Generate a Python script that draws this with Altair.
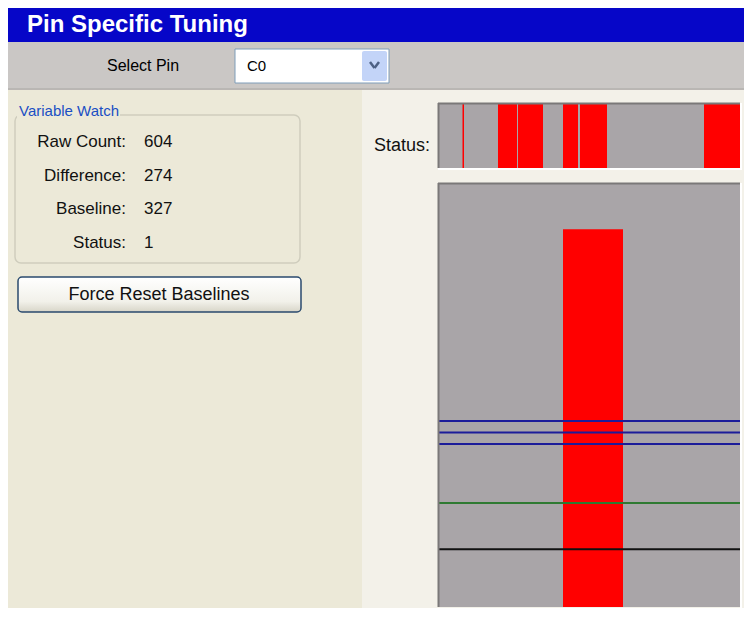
import altair as alt
import pandas as pd

# ---------------- data ----------------
watch_labels = ["Raw Count:", "Difference:", "Baseline:", "Status:"]
watch_values = ["604", "274", "327", "1"]

# status strip: time samples (0..302) where status == 1
status_start = [24.5, 60, 80, 125, 142, 266]
status_end = [26, 79, 105, 140, 169, 302]

# main gauge: current raw count bar
bar_start = [125]
bar_end = [185]
raw_count = [604]

# threshold lines
threshold_levels = [438, 428, 418, 367, 327]
threshold_kind = ["trip", "trip", "trip", "release", "baseline"]

TIME_DOMAIN = [0, 302]
COUNT_DOMAIN = [277, 644]

BEIGE = "#ece9d8"
FONT = "Liberation Sans"

one = pd.DataFrame({"a": [0]})


def rect(x, x2, y, y2, **mark):
    return alt.Chart(one).mark_rect(**mark).encode(
        x=alt.value(x), x2=alt.value(x2), y=alt.value(y), y2=alt.value(y2)
    )


def rule(x, x2, y, y2, **mark):
    return alt.Chart(one).mark_rule(**mark).encode(
        x=alt.value(x), x2=alt.value(x2), y=alt.value(y), y2=alt.value(y2)
    )


def label(txt, x, y, **mark):
    return alt.Chart(one).mark_text(text=txt, font=FONT, **mark).encode(
        x=alt.value(x), y=alt.value(y)
    )


xscale = alt.Scale(domain=TIME_DOMAIN, range=[430, 732], nice=False, zero=False)
yscale = alt.Scale(domain=COUNT_DOMAIN, range=[599, 175], nice=False, zero=False)

# ---------------- chrome ----------------
layers = []
layers.append(rect(354, 736, 82, 600, fill="#f3f1e9"))          # right panel
layers.append(rect(0, 736, 0, 34, fill="#0606c8"))               # title bar
layers.append(label("Pin Specific Tuning", 19, 17, fontSize=24, fontWeight="bold",
                    color="white", align="left", baseline="middle"))
layers.append(rect(0, 736, 34, 82, fill="#cac7c5"))              # select bar
layers.append(rule(0, 736, 81, 81, color="#a9a6a2", strokeWidth=1))
layers.append(label("Select Pin", 99, 58, fontSize=16, color="black",
                    align="left", baseline="middle"))
layers.append(rect(227, 381, 41, 75, fill="white", stroke="#7f9db9", strokeWidth=1))
layers.append(rect(354, 379, 43, 73, fill="#c3d4f8", cornerRadius=2))
layers.append(rule(362, 366.5, 54, 60, color="#4d6185", strokeWidth=2.5))
layers.append(rule(366.5, 371, 60, 54, color="#4d6185", strokeWidth=2.5))
layers.append(label("C0", 239, 58, fontSize=15, color="black",
                    align="left", baseline="middle"))

# variable watch group box
layers.append(rect(7, 292, 107, 255, fill=BEIGE, stroke="#cfcdbd",
                   strokeWidth=1.5, cornerRadius=6))
layers.append(rect(9, 112, 98, 110, fill=BEIGE))
layers.append(label("Variable Watch", 11, 103, fontSize=15, color="#1a4fc4",
                    align="left", baseline="middle"))

rows = pd.DataFrame({"row": list(range(4)), "lab": watch_labels, "val": watch_values})
row_scale = alt.Scale(type="point", domain=[0, 1, 2, 3], range=[134, 235], padding=0)
layers.append(
    alt.Chart(rows).mark_text(font=FONT, fontSize=17, align="right", baseline="middle",
                              color="#111").encode(
        x=alt.value(118),
        y=alt.Y("row:O", scale=row_scale, axis=None),
        text="lab:N",
    )
)
layers.append(
    alt.Chart(rows).mark_text(font=FONT, fontSize=17, align="left", baseline="middle",
                              color="#111").encode(
        x=alt.value(136),
        y=alt.Y("row:O", scale=row_scale, axis=None),
        text="val:N",
    )
)

# button
grad = alt.LinearGradient(
    gradient="linear", x1=0, y1=0, x2=0, y2=1,
    stops=[alt.GradientStop(offset=0, color="#ffffff"),
           alt.GradientStop(offset=0.7, color="#f2f1ea"),
           alt.GradientStop(offset=1, color="#d8d5c8")],
)
layers.append(rect(10, 293, 269, 304, fill=grad, stroke="#2a4a6e",
                   strokeWidth=1.5, cornerRadius=4))
layers.append(label("Force Reset Baselines", 151, 287, fontSize=18, color="#111",
                    align="center", baseline="middle"))

# status strip
layers.append(label("Status:", 422, 138, fontSize=18, color="#111",
                    align="right", baseline="middle"))
layers.append(rect(430, 732, 95, 160, fill="#a9a5a8"))
status_df = pd.DataFrame({"start": status_start, "end": status_end})
layers.append(
    alt.Chart(status_df).mark_rect(color="#ff0000").encode(
        x=alt.X("start:Q", scale=xscale, axis=None),
        x2="end:Q",
        y=alt.value(95), y2=alt.value(160),
    )
)
layers.append(rule(430, 732, 95.5, 95.5, color="#7a7878", strokeWidth=2))
layers.append(rule(430.5, 430.5, 95, 160, color="#7a7878", strokeWidth=2))
layers.append(rule(430, 734, 161, 161, color="#ffffff", strokeWidth=2))

# main gauge
layers.append(rect(430, 732, 175, 599, fill="#a9a5a8"))
bar_df = pd.DataFrame({"start": bar_start, "end": bar_end, "raw": raw_count})
layers.append(
    alt.Chart(bar_df).mark_rect(color="#ff0000").encode(
        x=alt.X("start:Q", scale=xscale, axis=None),
        x2="end:Q",
        y=alt.Y("raw:Q", scale=yscale, axis=None),
        y2=alt.datum(COUNT_DOMAIN[0]),
    )
)
thr_df = pd.DataFrame({"level": threshold_levels, "kind": threshold_kind})
layers.append(
    alt.Chart(thr_df).mark_rule(strokeWidth=2).encode(
        x=alt.datum(TIME_DOMAIN[0], scale=xscale),
        x2=alt.datum(TIME_DOMAIN[1]),
        y=alt.Y("level:Q", scale=yscale, axis=None),
        color=alt.Color("kind:N", legend=None,
                        scale=alt.Scale(domain=["trip", "release", "baseline"],
                                        range=["#1c1c9a", "#2f7a32", "#111111"])),
    )
)
layers.append(rule(430, 732, 175.5, 175.5, color="#7a7878", strokeWidth=2))
layers.append(rule(430.5, 430.5, 175, 599, color="#7a7878", strokeWidth=2))
layers.append(rule(733, 733, 175, 600, color="#ffffff", strokeWidth=2))
layers.append(rule(733, 733, 95, 162, color="#ffffff", strokeWidth=2))

chart = (
    alt.layer(*layers)
    .resolve_scale(y="independent")
    .properties(width=736, height=600, padding=0, autosize="none", background=BEIGE)
    .configure_view(stroke=None)
)

chart.save("out.html", embed_options={"renderer": "svg", "actions": False})
